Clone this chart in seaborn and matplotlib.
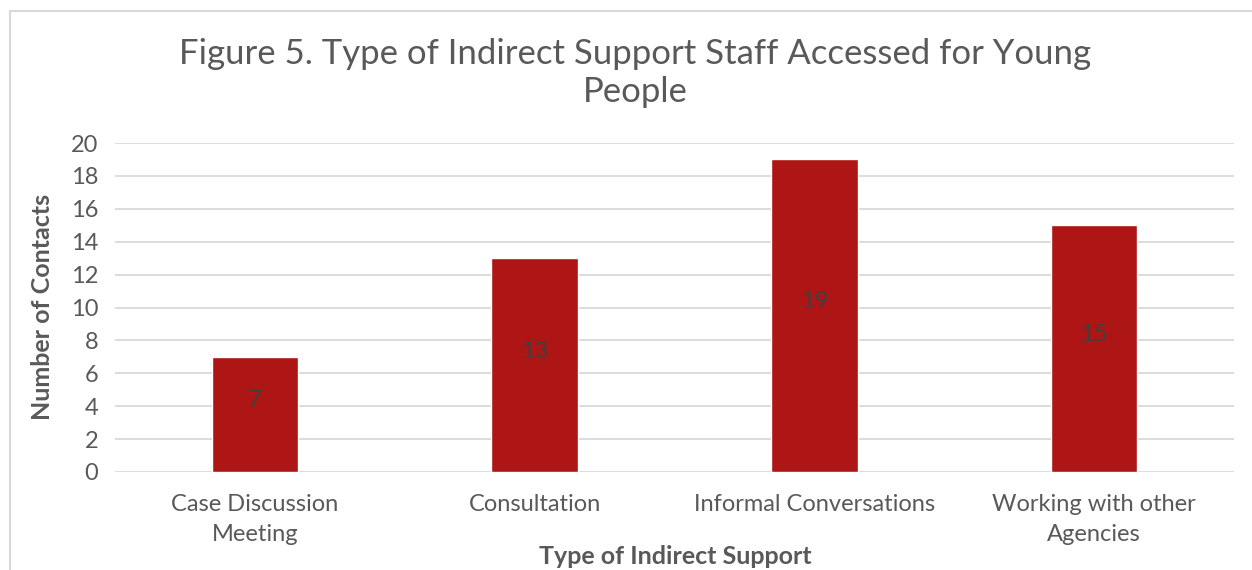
import matplotlib
matplotlib.use("Agg")
import matplotlib.pyplot as plt
import seaborn as sns
import pandas as pd
from matplotlib.lines import Line2D

categories = ["Case Discussion\nMeeting", "Consultation", "Informal Conversations", "Working with other\nAgencies"]
contacts = [7, 13, 19, 15]

df = pd.DataFrame({"support": categories, "contacts": contacts})

sns.set_style("white")
plt.rcParams["font.family"] = ["Lato", "DejaVu Sans"]

text_grey = "#595959"
bar_red = "#AE1515"

fig = plt.figure(figsize=(12.52, 5.70), dpi=100)
ax = fig.add_axes([115 / 1252, 1 - 472 / 570, (1234 - 115) / 1252, (472 - 143) / 570])

sns.barplot(data=df, x="support", y="contacts", color=bar_red, width=0.31,
            saturation=1, ax=ax, zorder=3)

ax.set_ylim(0, 20)
ax.set_xlim(-0.5, 3.5)
ax.set_yticks(range(0, 21, 2))
ax.yaxis.grid(True, color="#D9D9D9", linewidth=1.3, zorder=0)
ax.set_axisbelow(True)
for s in ax.spines.values():
    s.set_visible(False)
ax.tick_params(axis="both", length=0, labelsize=17, labelcolor=text_grey)
ax.tick_params(axis="y", pad=12)
ax.tick_params(axis="x", pad=16)
for lbl in ax.get_xticklabels():
    lbl.set_linespacing(1.5)

# value labels in bars
for i, v in enumerate(contacts):
    ax.annotate(str(v), (i, v / 2), xytext=(0, 10), textcoords="offset points",
                ha="center", va="center", fontsize=17, color="#404040")

ax.set_xlabel("Type of Indirect Support", fontsize=18, fontweight="bold",
              color=text_grey)
ax.set_ylabel("Number of Contacts", fontsize=18, fontweight="bold",
              color=text_grey)
ax.xaxis.label.set_va("center")
ax.yaxis.label.set_va("center")
ax.xaxis.set_label_coords((675 - 115) / (1234 - 115), -(557 - 472) / (472 - 143))
ax.yaxis.set_label_coords(-(115 - 43) / (1234 - 115), (472 - 307) / (472 - 143))

fig.text(635 / 1252, 1 - 73 / 570,
         "Figure 5. Type of Indirect Support Staff Accessed for Young\nPeople",
         ha="center", va="center", fontsize=25, color=text_grey, linespacing=1.25)

# chart frame (left and top edges visible)
fig.add_artist(Line2D([10 / 1252, 10 / 1252], [0, 1 - 11 / 570], color="#D9D9D9", lw=1.5))
fig.add_artist(Line2D([10 / 1252, 1], [1 - 11 / 570, 1 - 11 / 570], color="#D9D9D9", lw=1.5))

fig.savefig("out.png", dpi=100)
